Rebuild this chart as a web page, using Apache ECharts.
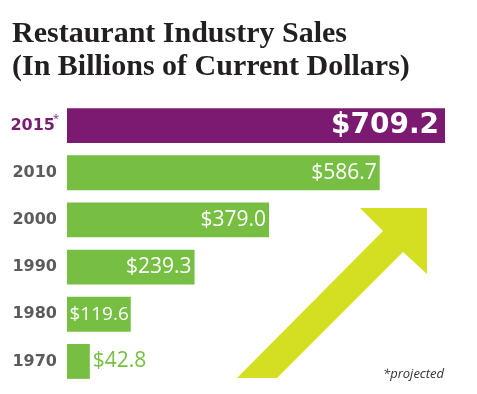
<!DOCTYPE html>
<html>
<head>
<meta charset="utf-8">
<script src="https://cdn.jsdelivr.net/npm/echarts@6/dist/echarts.min.js"></script>
<style>
html,body{margin:0;padding:0;background:#fff;}
#chart{width:477px;height:394px;}
</style>
</head>
<body>
<div id="chart"></div>
<script>
var years = ['1970', '1980', '1990', '2000', '2010', '2015'];
var sales = [42.8, 119.6, 239.3, 379.0, 586.7, 709.2];
var valueLabels = ['$42.8', '$119.6', '$239.3', '$379.0', '$586.7', '$709.2'];
var titleLines = ['Restaurant Industry Sales', '(In Billions of Current Dollars)'];
var footnote = '*projected';

var GREEN = '#76bf42';
var PURPLE = '#7c1a72';
var ARROW = '#d5df22';

var chart = echarts.init(document.getElementById('chart'), null, {renderer: 'canvas'});

var data = sales.map(function (v, i) {
  var last = i === sales.length - 1;
  var first = i === 0;
  var small = i === 1;
  return {
    value: v,
    itemStyle: {color: last ? PURPLE : GREEN},
    label: {
      show: true,
      position: first ? 'right' : 'insideRight',
      distance: first ? 3 : (last ? 6 : (small ? 2 : 3)),
      formatter: valueLabels[i],
      color: first ? GREEN : '#ffffff',
      fontFamily: last ? 'DejaVu Sans' : 'Open Sans',
      fontWeight: last ? 'bold' : 'normal',
      fontSize: last ? 28 : (small ? 19 : 21)
    }
  };
});

chart.setOption({
  animation: false,
  backgroundColor: '#ffffff',
  grid: {left: 67, right: 32, top: 102, bottom: 9},
  xAxis: {
    type: 'value', min: 0, max: 709.2,
    show: false
  },
  yAxis: {
    type: 'category',
    data: years,
    axisLine: {show: false},
    axisTick: {show: false},
    axisLabel: {
      margin: 10,
      formatter: function (v) {
        return v === '2015' ? '{p|' + v + '}{s|*}' : '{g|' + v + '}';
      },
      rich: {
        g: {color: '#5a5b5d', fontFamily: 'DejaVu Sans', fontWeight: 'bold', fontSize: 16},
        p: {color: PURPLE, fontFamily: 'DejaVu Sans', fontWeight: 'bold', fontSize: 16},
        s: {color: PURPLE, fontFamily: 'Open Sans', fontSize: 11, padding: [0, 0, 14, 0], width: 2, align: 'left'}
      }
    }
  },
  series: [{
    type: 'bar',
    data: data,
    barCategoryGap: '26%'
  }],
  graphic: [
    {
      type: 'text', left: 12, top: 18,
      style: {
        text: titleLines.join('\n'),
        fontFamily: 'Liberation Serif', fontWeight: 'bold', fontSize: 30,
        lineHeight: 33, fill: '#231f20'
      }
    },
    {
      type: 'polygon',
      shape: {points: [[360, 208], [427, 208], [427, 274], [403, 252], [277, 378], [237, 378], [383, 231]]},
      style: {fill: ARROW}
    },
    {
      type: 'text', left: 383, top: 368,
      style: {
        text: footnote,
        fontFamily: 'Open Sans', fontStyle: 'italic', fontSize: 13, fill: '#333'
      }
    }
  ]
});
</script>
</body>
</html>
